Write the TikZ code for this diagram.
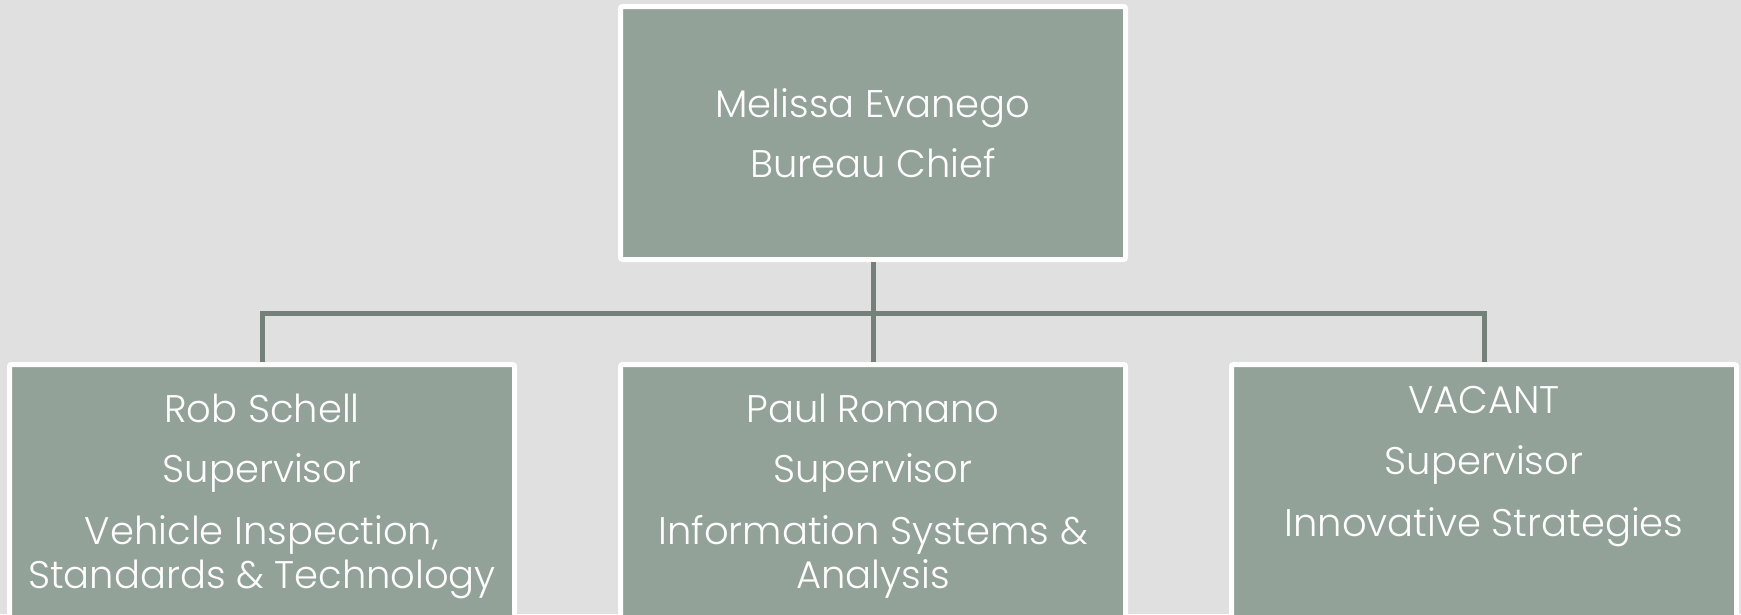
\documentclass[tikz,border=0pt]{standalone}
\usepackage{fontspec}
\setmainfont{Poppins Light}
\definecolor{bgc}{HTML}{E0E0E0}
\definecolor{boxc}{HTML}{93A298}
\definecolor{linec}{HTML}{748079}
\begin{document}
\begin{tikzpicture}[x=1pt,y=-1pt,
  box/.style={draw=white, line width=5pt, fill=boxc, rounded corners=2pt, inner sep=0pt},
  txt/.style={text=white, font=\fontsize{38.5}{44}\selectfont, anchor=base, inner sep=0pt},
  conn/.style={draw=linec, line width=5pt}]
\useasboundingbox (0,0) rectangle (1741,614);
\fill[bgc] (0,0) rectangle (1741,614);
\clip (0,0) rectangle (1741,614);
% boxes
\node[box, minimum width=505pt, minimum height=253pt] (top) at (873,133) {};
\node[box, minimum width=505pt, minimum height=340pt] (b1) at (262,534.5) {};
\node[box, minimum width=505pt, minimum height=340pt] (b2) at (873,534.5) {};
\node[box, minimum width=505pt, minimum height=340pt] (b3) at (1484,534.5) {};
% connectors
\coordinate (j) at (873,313);
\draw[conn] (top.south) -- (j);
\draw[conn] (b1.north) |- (j);
\draw[conn] (b3.north) |- (j);
\draw[conn] (j) -- (b2.north);
% texts
\node[txt] (t1) at (873,117) {Melissa Evanego};
\node[txt] (t2) at (873,177) {Bureau Chief};
\node[txt] (l1) at (262,422) {Rob Schell};
\node[txt] (l2) at (262,482) {Supervisor};
\node[txt] (l3) at (262,544) {Vehicle Inspection,};
\node[txt] (l4) at (262,588) {Standards \& Technology};
\node[txt] (m1) at (873,422) {Paul Romano};
\node[txt] (m2) at (873,482) {Supervisor};
\node[txt] (m3) at (873,544) {Information Systems \&};
\node[txt] (m4) at (873,588) {Analysis};
\node[txt] (r1) at (1484,413) {VACANT};
\node[txt] (r2) at (1484,474) {Supervisor};
\node[txt] (r3) at (1484,536) {Innovative Strategies};
\end{tikzpicture}
\end{document}
